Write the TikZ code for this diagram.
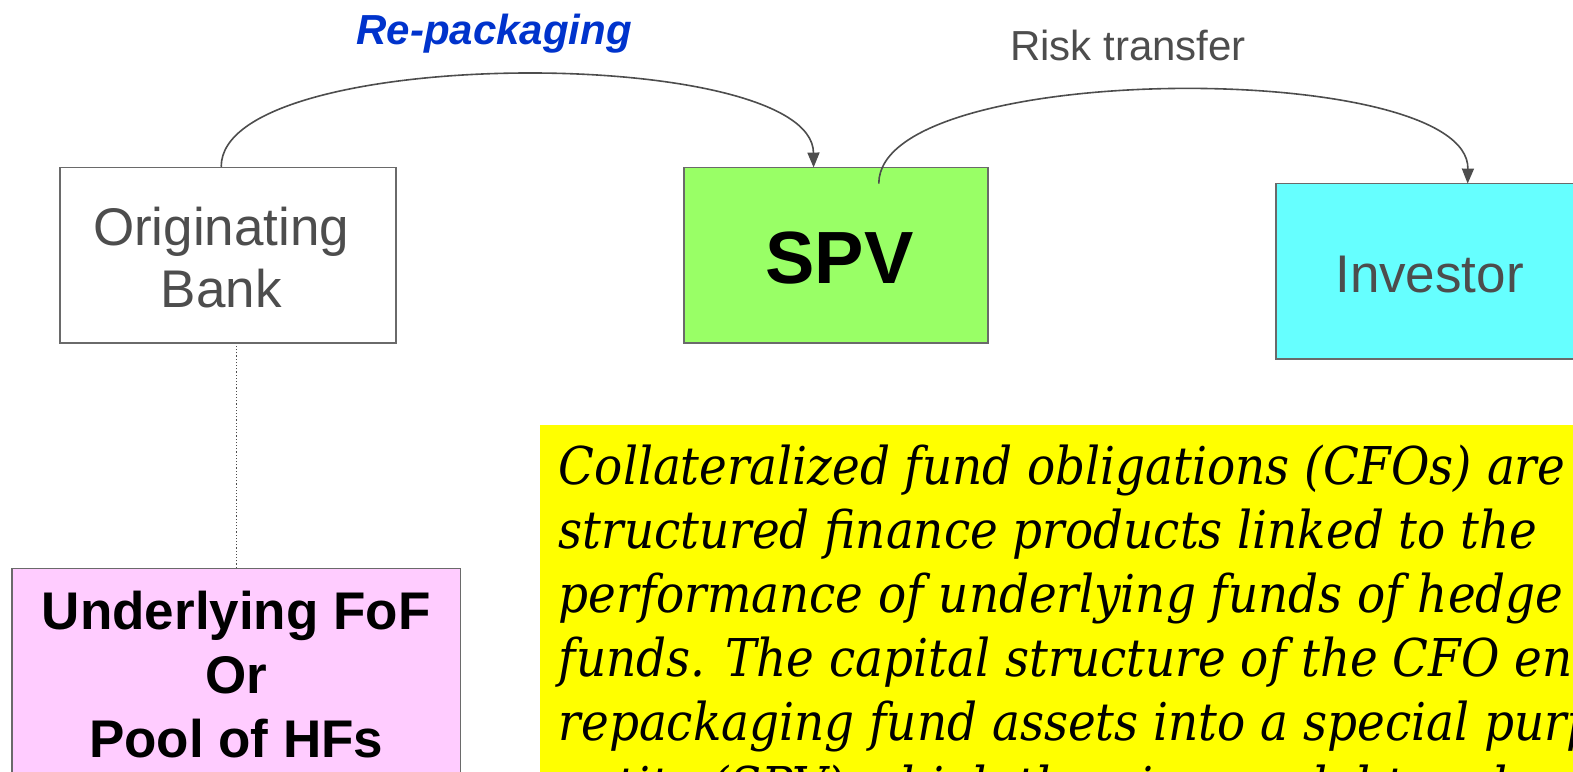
\documentclass[tikz,border=0pt]{standalone}
\usepackage{fontspec}
\setmainfont{Liberation Sans}
\newfontfamily\notefont{DejaVu Serif Condensed}
\usetikzlibrary{arrows.meta}
\definecolor{txtgray}{HTML}{4D4D4D}
\definecolor{edgegray}{HTML}{6A6A6A}
\definecolor{spvgreen}{HTML}{99FF66}
\definecolor{invcyan}{HTML}{66FFFF}
\definecolor{fofpink}{HTML}{FFCCFF}
\definecolor{repblue}{HTML}{0033CC}
\definecolor{noteyellow}{HTML}{FFFF00}
\newlength\notelinew
\begin{document}
\settowidth\notelinew{\notefont\itshape\fontsize{10pt}{12pt}\selectfont Collateralized fund obligations (CFOs) are}%
\pgfmathsetmacro\notesize{10*1006/\notelinew}%
\begin{tikzpicture}[x=1.0032pt,y=-1.0032pt,
  box/.style={draw=edgegray, line width=1.6pt, inner sep=0pt, rectangle},
  conn/.style={draw=txtgray, line width=1.6pt, -{Triangle[length=15pt,width=12pt]}},
  linktxt/.style={inner sep=0pt, anchor=base, font=\fontsize{42pt}{50pt}\selectfont},
  boxtxt/.style={inner sep=0pt, font=\fontsize{53pt}{62pt}\selectfont},
  ]
\useasboundingbox (0,0) rectangle (1568,769.54);
\clip (0,0) rectangle (1568,769.54);

% boxes
\node[box, fill=white, minimum width=336pt, minimum height=175.5pt] (orig) at (227.5,254.5) {};
\node[box, fill=spvgreen, minimum width=304pt, minimum height=175.5pt] (spv) at (833.5,254.5) {};
\node[box, fill=invcyan, minimum width=307pt, minimum height=175.5pt] (inv) at (1425,270.5) {};
\node[box, fill=fofpink, minimum width=448.5pt, minimum height=210pt] (fof) at (235.5,671.5) {};
\node[fill=noteyellow, draw=none, inner sep=0pt, anchor=north west, minimum width=1100pt, minimum height=400pt] (note) at (538,423) {};

% box texts
\node[boxtxt, text=txtgray, align=center, anchor=north] (origtext) at (220.5,192) {\rule{0pt}{53pt}Originating\\Bank};
\node[inner sep=0pt, anchor=base, font=\bfseries\fontsize{74pt}{80pt}\selectfont] (spvtext) at (837,283) {SPV};
\node[boxtxt, text=txtgray, anchor=base] (invtext) at (1425,292) {Investor};
\node[inner sep=0pt, align=center, anchor=north, font=\bfseries\fontsize{53pt}{64pt}\selectfont] (foftext) at (235.5,574) {\rule{0pt}{53pt}Underlying FoF\\Or\\Pool of HFs};
\node[inner sep=0pt, align=left, anchor=north west, font={\notefont\itshape\fontsize{\notesize pt}{64pt}\selectfont}] (notetext) at (557,{483-\notesize}) {\rule{0pt}{\notesize pt}Collateralized fund obligations (CFOs) are\\
structured finance products linked to the\\
performance of underlying funds of hedge\\
funds. The capital structure of the CFO entails\\
repackaging fund assets into a special purpose\\
entity (SPV) which then issues debt and};

% labels
\node[linktxt, text=repblue, font=\bfseries\itshape\fontsize{42pt}{50pt}\selectfont] (replabel) at (492.5,44) {Re-packaging};
\node[linktxt, text=txtgray] (risklabel) at (1124.5,60) {Risk transfer};

% connectors
\coordinate (a1end) at (811,167);
\coordinate (a2start) at (876,183);
\coordinate (a2end) at (1463,183);
\draw[conn] (origtext |- orig.north) .. controls (220,44) and (810,44) .. (a1end);
\draw[conn] (a2start) .. controls (876,59) and (1465,59) .. (a2end);
\draw[draw=txtgray, line width=1.2pt, dotted] (fof.north) -- (fof.north |- orig.south);
\end{tikzpicture}
\end{document}
